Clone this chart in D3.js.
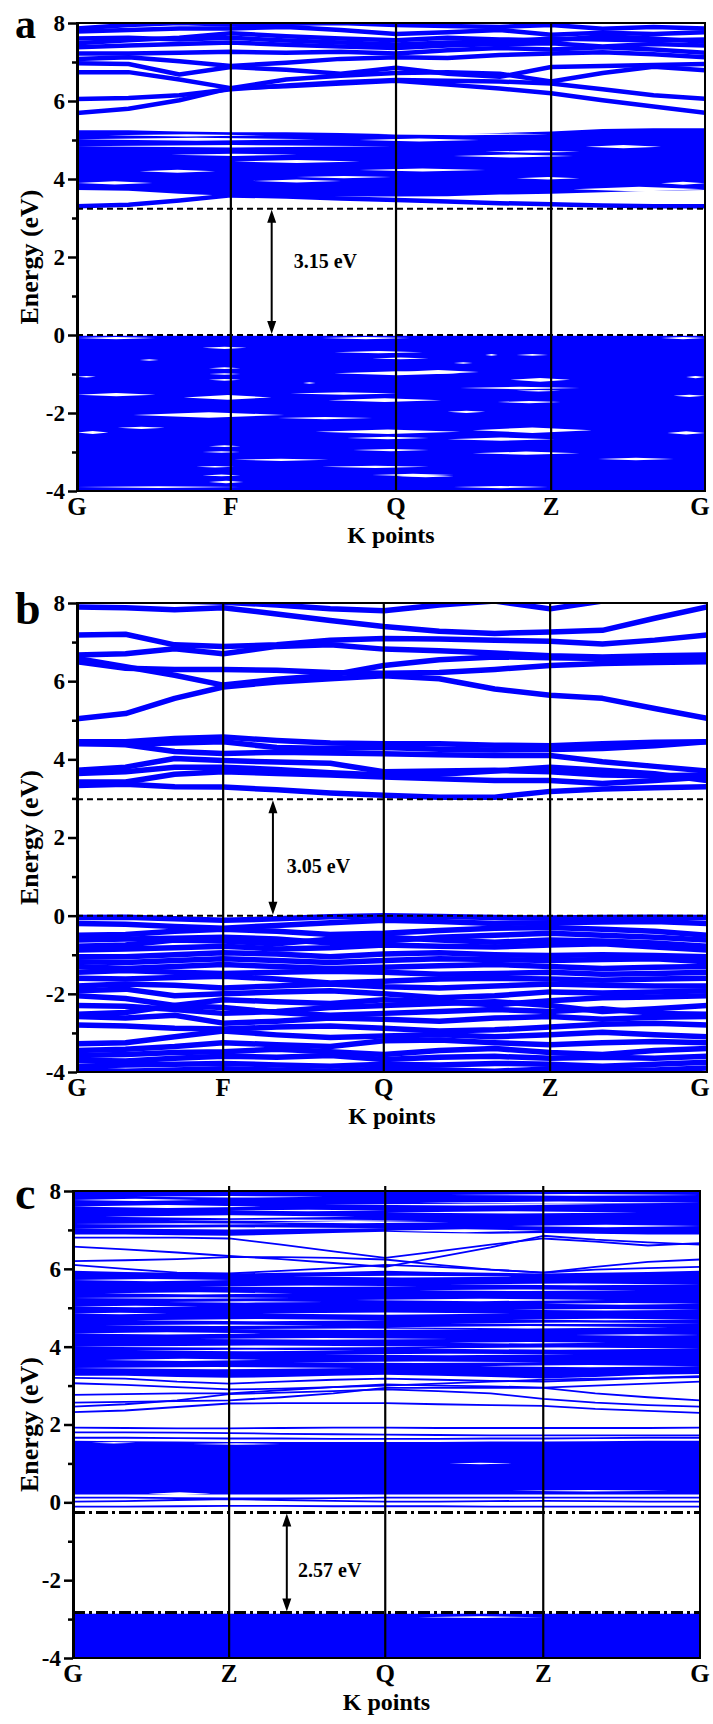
<!DOCTYPE html>
<html lang="en">
<head>
<meta charset="UTF-8">
<title>Band structures a, b, c</title>
<script src="https://d3js.org/d3.v7.min.js"></script>
<style>
    body { margin: 0; background: #fff; }
    svg text { font-family: "Liberation Serif", "Tinos", "Times New Roman", "DejaVu Serif", serif; font-weight: bold; fill: #000; }
</style>
</head>
<body>
<svg width="713" height="1724"></svg>
<script>
    // ---------- panel a ----------
    const kLabelsA = ["G", "F", "Q", "Z", "G"];
    const kTicksA = [0, 0.245, 0.508, 0.755, 1];
    const kGridA = [0, 0.082, 0.163, 0.245, 0.333, 0.42, 0.508, 0.59, 0.673, 0.755, 0.837, 0.918, 1];
    const bandsA = [
        [5.69, 5.80, 6.02, 6.33, 6.38, 6.45, 6.52, 6.42, 6.32, 6.20, 6.02, 5.86, 5.70],
        [6.05, 6.08, 6.15, 6.30, 6.40, 6.48, 6.54, 6.52, 6.50, 6.45, 6.30, 6.15, 6.06],
        [6.74, 6.74, 6.55, 6.33, 6.55, 6.65, 6.72, 6.74, 6.70, 6.50, 6.72, 6.88, 6.79],
        [6.97, 6.95, 6.68, 6.87, 6.80, 6.70, 6.85, 6.70, 6.62, 6.87, 6.90, 6.92, 6.95],
        [7.08, 7.12, 7.02, 6.90, 6.98, 7.08, 7.12, 7.10, 7.18, 7.22, 7.25, 7.20, 7.12],
        [7.22, 7.22, 7.24, 7.26, 7.24, 7.26, 7.22, 7.30, 7.36, 7.32, 7.38, 7.32, 7.24],
        [7.38, 7.42, 7.46, 7.50, 7.44, 7.40, 7.36, 7.42, 7.46, 7.48, 7.40, 7.46, 7.42],
        [7.48, 7.56, 7.62, 7.74, 7.66, 7.60, 7.56, 7.62, 7.58, 7.55, 7.66, 7.60, 7.52],
        [7.60, 7.62, 7.58, 7.62, 7.55, 7.50, 7.45, 7.50, 7.52, 7.60, 7.58, 7.55, 7.58],
        [7.78, 7.82, 7.86, 7.86, 7.90, 7.82, 7.72, 7.76, 7.82, 7.70, 7.75, 7.72, 7.76],
        [7.86, 7.95, 8.00, 7.96, 7.98, 8.00, 7.95, 7.92, 7.90, 7.95, 7.85, 7.90, 7.86],
        [3.30, 3.34, 3.45, 3.58, 3.55, 3.50, 3.46, 3.42, 3.38, 3.35, 3.32, 3.30, 3.30]
    ];
    const blocksA = [
        {lo: [3.72, 3.70, 3.62, 3.57, 3.55, 3.55, 3.55, 3.56, 3.60, 3.62, 3.66, 3.70, 3.72],
         hi: [5.25, 5.25, 5.22, 5.20, 5.20, 5.18, 5.15, 5.15, 5.18, 5.22, 5.28, 5.30, 5.30]},
        {lo: [-4.2, -4.2, -4.2, -4.2, -4.2, -4.2, -4.2, -4.2, -4.2, -4.2, -4.2, -4.2, -4.2],
         hi: [-0.02, -0.02, -0.02, -0.02, -0.02, -0.02, -0.02, -0.02, -0.02, -0.02, -0.02, -0.02, -0.02]}
    ];
    // white openings inside the dense manifolds: [k start, k end, energy, half width (eV)]
    const gapsA = [
        [0.00, 0.12, 3.90, 0.04], [0.00, 0.50, 4.84, 0.03], [0.00, 0.38, 5.02, 0.04], [0.10, 0.22, 4.20, 0.04],
        [0.05, 0.30, 5.12, 0.03], [0.81, 0.93, 4.83, 0.04], [0.60, 0.79, 4.59, 0.04], [0.65, 0.80, 4.70, 0.03],
        [0.45, 0.65, 4.23, 0.04], [0.70, 0.80, 4.02, 0.03], [0.93, 1.00, 3.89, 0.04], [0.79, 1.00, 3.74, 0.06],
        [0.45, 0.64, 5.00, 0.04], [0.48, 0.75, 5.15, 0.03], [0.25, 0.45, 4.45, 0.04], [0.28, 0.42, 3.95, 0.04],
        [0.35, 0.50, 4.05, 0.03], [0.15, 0.35, 4.62, 0.03],
        [0.00, 0.125, -0.08, 0.03], [0.10, 0.13, -0.64, 0.02], [0.00, 0.03, -1.07, 0.02], [0.00, 0.125, -1.53, 0.04],
        [0.17, 0.31, -1.60, 0.06], [0.09, 0.33, -2.05, 0.07], [0.065, 0.14, -2.38, 0.03], [0.00, 0.05, -2.50, 0.04],
        [0.25, 0.40, -3.20, 0.03], [0.19, 0.25, -3.38, 0.02], [0.21, 0.265, -3.77, 0.03], [0.20, 0.27, -0.33, 0.03],
        [0.39, 0.53, -0.08, 0.03], [0.41, 0.55, -0.44, 0.03], [0.47, 0.56, -0.60, 0.02], [0.41, 0.61, -0.98, 0.05],
        [0.36, 0.38, -1.23, 0.02], [0.34, 0.51, -1.50, 0.03], [0.40, 0.58, -1.67, 0.05], [0.32, 0.47, -2.13, 0.03],
        [0.38, 0.61, -2.48, 0.06], [0.43, 0.56, -2.64, 0.03], [0.44, 0.56, -2.95, 0.03], [0.39, 0.56, -3.38, 0.03],
        [0.47, 0.60, -3.59, 0.03], [0.00, 0.26, -3.90, 0.02], [0.93, 1.00, -0.08, 0.03], [0.65, 0.67, -0.51, 0.02],
        [0.70, 0.75, -0.51, 0.02], [0.60, 0.63, -0.72, 0.02], [0.51, 0.64, -0.95, 0.05], [0.69, 0.785, -1.15, 0.05],
        [0.97, 1.00, -1.08, 0.03], [0.61, 0.80, -1.36, 0.03], [0.70, 0.77, -1.43, 0.02], [0.95, 1.00, -1.56, 0.03],
        [0.67, 0.77, -1.72, 0.03], [0.59, 0.65, -1.97, 0.03], [0.63, 0.82, -2.44, 0.07], [0.94, 1.00, -2.51, 0.04],
        [0.59, 0.76, -2.67, 0.04], [0.63, 0.80, -3.03, 0.04], [0.83, 0.95, -3.18, 0.03], [0.51, 0.60, -3.62, 0.03],
        [0.60, 0.75, -3.90, 0.03], [0.21, 0.26, -0.85, 0.02], [0.21, 0.26, -1.00, 0.02], [0.21, 0.26, -1.15, 0.02],
        [0.21, 0.26, -2.85, 0.02], [0.20, 0.26, -3.00, 0.02], [0.20, 0.26, -3.60, 0.02]
    ];
    const edgesA = [0, 3.24];
    const gapTextA = "3.15 eV";

    // ---------- panel b ----------
    const kLabelsB = ["G", "F", "Q", "Z", "G"];
    const kTicksB = [0, 0.232, 0.487, 0.751, 1];
    const kGridB = [0, 0.077, 0.155, 0.232, 0.317, 0.402, 0.487, 0.575, 0.663, 0.751, 0.834, 0.917, 1];
    const bandsB = [
        [3.33, 3.36, 3.30, 3.29, 3.22, 3.14, 3.08, 3.03, 3.03, 3.18, 3.24, 3.27, 3.30],
        [3.42, 3.42, 3.62, 3.68, 3.64, 3.60, 3.55, 3.50, 3.46, 3.46, 3.38, 3.46, 3.55],
        [3.64, 3.68, 3.80, 3.80, 3.74, 3.66, 3.60, 3.62, 3.70, 3.80, 3.72, 3.63, 3.46],
        [3.72, 3.80, 4.02, 3.97, 3.93, 3.90, 3.68, 3.70, 3.72, 3.68, 3.60, 3.58, 3.60],
        [4.41, 4.37, 4.20, 4.15, 4.18, 4.16, 4.14, 4.12, 4.10, 4.10, 3.94, 3.82, 3.70],
        [4.45, 4.45, 4.53, 4.57, 4.48, 4.42, 4.40, 4.40, 4.36, 4.35, 4.40, 4.44, 4.45],
        [4.40, 4.40, 4.42, 4.45, 4.30, 4.28, 4.30, 4.26, 4.24, 4.25, 4.28, 4.35, 4.45],
        [5.04, 5.17, 5.56, 5.85, 5.98, 6.06, 6.14, 6.06, 5.80, 5.64, 5.56, 5.30, 5.05],
        [6.50, 6.33, 6.30, 6.30, 6.28, 6.22, 6.20, 6.22, 6.30, 6.40, 6.45, 6.48, 6.50],
        [6.58, 6.37, 6.15, 5.90, 6.05, 6.15, 6.40, 6.55, 6.62, 6.60, 6.58, 6.56, 6.58],
        [6.67, 6.70, 6.83, 6.70, 6.89, 6.93, 6.82, 6.78, 6.72, 6.65, 6.62, 6.65, 6.67],
        [7.18, 7.20, 6.93, 6.89, 6.93, 7.05, 7.09, 7.08, 7.05, 7.02, 6.95, 7.05, 7.18],
        [7.90, 7.88, 7.83, 7.88, 7.72, 7.55, 7.40, 7.28, 7.22, 7.26, 7.30, 7.61, 7.90],
        [8.20, 8.10, 8.05, 8.02, 7.95, 7.85, 7.80, 7.95, 8.05, 7.85, 8.05, 8.20, 8.20],
        [-0.05, -0.04, -0.08, -0.12, -0.08, -0.03, 0.00, -0.02, -0.05, -0.06, -0.05, -0.04, -0.05],
        [-0.20, -0.22, -0.28, -0.32, -0.25, -0.18, -0.12, -0.15, -0.20, -0.18, -0.16, -0.15, -0.20],
        [-0.50, -0.48, -0.40, -0.35, -0.40, -0.48, -0.45, -0.38, -0.32, -0.30, -0.35, -0.40, -0.50],
        [-0.62, -0.60, -0.58, -0.55, -0.60, -0.70, -0.65, -0.55, -0.50, -0.45, -0.50, -0.55, -0.62],
        [-0.78, -0.75, -0.62, -0.65, -0.72, -0.60, -0.55, -0.62, -0.68, -0.62, -0.65, -0.70, -0.78],
        [-0.88, -0.85, -0.82, -0.78, -0.85, -0.82, -0.75, -0.78, -0.80, -0.75, -0.72, -0.80, -0.88],
        [-1.05, -1.05, -1.00, -0.95, -0.98, -1.05, -0.98, -0.95, -1.00, -1.02, -1.00, -1.02, -1.05],
        [-1.18, -1.20, -1.15, -1.10, -1.15, -1.20, -1.15, -1.10, -1.12, -1.15, -1.12, -1.10, -1.18],
        [-1.30, -1.35, -1.30, -1.25, -1.30, -1.35, -1.32, -1.28, -1.25, -1.30, -1.35, -1.32, -1.30],
        [-1.45, -1.40, -1.45, -1.48, -1.45, -1.42, -1.45, -1.50, -1.48, -1.45, -1.50, -1.48, -1.45],
        [-1.60, -1.62, -1.58, -1.55, -1.62, -1.72, -1.68, -1.62, -1.60, -1.62, -1.65, -1.62, -1.60],
        [-1.80, -1.75, -1.78, -1.85, -1.80, -1.75, -1.82, -1.85, -1.80, -1.75, -1.78, -1.80, -1.80],
        [-1.92, -1.88, -2.05, -2.00, -1.95, -1.92, -2.00, -2.10, -2.05, -1.95, -1.98, -1.95, -1.92],
        [-2.05, -2.12, -2.30, -2.15, -2.20, -2.25, -2.15, -2.20, -2.28, -2.18, -2.10, -2.08, -2.05],
        [-2.30, -2.32, -2.40, -2.50, -2.45, -2.35, -2.30, -2.25, -2.20, -2.30, -2.45, -2.38, -2.30],
        [-2.52, -2.48, -2.30, -2.35, -2.48, -2.55, -2.50, -2.45, -2.40, -2.45, -2.38, -2.50, -2.52],
        [-2.58, -2.62, -2.55, -2.75, -2.70, -2.62, -2.65, -2.70, -2.62, -2.58, -2.65, -2.60, -2.58],
        [-2.80, -2.82, -2.88, -2.90, -2.85, -2.82, -2.88, -2.95, -2.92, -2.85, -2.78, -2.75, -2.80],
        [-3.28, -3.25, -3.10, -2.95, -3.05, -3.12, -3.08, -3.05, -3.10, -3.05, -2.98, -3.05, -3.10],
        [-3.45, -3.42, -3.35, -3.25, -3.30, -3.35, -3.20, -3.18, -3.25, -3.30, -3.25, -3.22, -3.25],
        [-3.58, -3.55, -3.50, -3.48, -3.42, -3.48, -3.55, -3.45, -3.40, -3.50, -3.55, -3.45, -3.40],
        [-3.70, -3.72, -3.65, -3.60, -3.62, -3.58, -3.68, -3.62, -3.60, -3.65, -3.62, -3.65, -3.60],
        [-3.85, -3.82, -3.80, -3.78, -3.82, -3.85, -3.80, -3.82, -3.78, -3.80, -3.85, -3.80, -3.75],
        [-3.95, -3.98, -3.95, -3.92, -3.95, -3.98, -3.92, -3.95, -3.98, -3.92, -3.95, -3.95, -3.90]
    ];
    const blocksB = [];
    const gapsB = [];
    const edgesB = [0, 2.98];
    const gapTextB = "3.05 eV";

    // ---------- panel c ----------
    const kLabelsC = ["G", "Z", "Q", "Z", "G"];
    const kTicksC = [0, 0.249, 0.498, 0.75, 1];
    const kGridC = [0, 0.083, 0.166, 0.249, 0.332, 0.415, 0.498, 0.582, 0.666, 0.75, 0.833, 0.917, 1];
    const bandsC = [
        [6.57, 6.50, 6.42, 6.33, 6.25, 6.15, 6.05, 6.30, 6.55, 6.85, 6.75, 6.68, 6.62],
        [6.10, 6.00, 5.90, 5.88, 5.95, 6.02, 6.10, 6.05, 5.98, 5.90, 5.98, 6.02, 6.05],
        [6.80, 6.80, 6.80, 6.78, 6.62, 6.45, 6.28, 6.45, 6.62, 6.78, 6.70, 6.60, 6.66],
        [6.20, 6.22, 6.25, 6.30, 6.30, 6.28, 6.24, 6.10, 5.98, 5.90, 6.05, 6.18, 6.24],
        [2.32, 2.36, 2.45, 2.54, 2.55, 2.55, 2.55, 2.52, 2.50, 2.48, 2.40, 2.35, 2.30],
        [2.46, 2.52, 2.62, 2.78, 2.82, 2.86, 2.90, 2.86, 2.80, 2.66, 2.56, 2.50, 2.46],
        [2.56, 2.58, 2.60, 2.62, 2.70, 2.80, 2.94, 2.94, 2.94, 2.94, 2.80, 2.70, 2.62],
        [2.76, 2.78, 2.80, 2.80, 2.88, 2.96, 3.03, 3.00, 2.98, 2.95, 3.00, 3.05, 3.10],
        [3.06, 3.02, 2.96, 2.90, 2.92, 2.96, 3.00, 3.05, 3.10, 3.15, 3.18, 3.20, 3.22],
        [3.20, 3.18, 3.10, 3.05, 3.10, 3.15, 3.18, 3.15, 3.12, 3.10, 3.15, 3.20, 3.24],
        [1.92, 1.91, 1.90, 1.90, 1.91, 1.92, 1.92, 1.91, 1.91, 1.91, 1.91, 1.91, 1.92],
        [1.80, 1.80, 1.79, 1.78, 1.76, 1.75, 1.74, 1.73, 1.72, 1.72, 1.72, 1.72, 1.72],
        [1.66, 1.66, 1.65, 1.64, 1.64, 1.63, 1.63, 1.63, 1.64, 1.64, 1.65, 1.66, 1.66],
        [0.12, 0.12, 0.11, 0.10, 0.10, 0.11, 0.12, 0.12, 0.12, 0.12, 0.12, 0.12, 0.12],
        [0.02, 0.03, 0.06, 0.08, 0.06, 0.04, 0.02, 0.02, 0.03, 0.04, 0.03, 0.02, 0.02],
        [-0.11, -0.11, -0.10, -0.09, -0.09, -0.10, -0.10, -0.10, -0.11, -0.11, -0.11, -0.11, -0.11]
    ];
    const blocksC = [
        {lo: [6.88, 6.88, 6.86, 6.85, 6.88, 6.92, 6.95, 6.92, 6.90, 6.92, 6.90, 6.88, 6.88],
         hi: [8.2, 8.2, 8.2, 8.2, 8.2, 8.2, 8.2, 8.2, 8.2, 8.2, 8.2, 8.2, 8.2]},
        {lo: [3.25, 3.25, 3.22, 3.20, 3.22, 3.25, 3.28, 3.25, 3.22, 3.18, 3.22, 3.28, 3.30],
         hi: [5.95, 5.92, 5.90, 5.88, 5.90, 5.92, 5.95, 5.92, 5.90, 5.88, 5.90, 5.92, 5.95]},
        {lo: [0.20, 0.20, 0.20, 0.20, 0.20, 0.20, 0.20, 0.20, 0.20, 0.20, 0.20, 0.20, 0.20],
         hi: [1.58, 1.57, 1.56, 1.55, 1.55, 1.55, 1.55, 1.55, 1.56, 1.56, 1.57, 1.58, 1.58]},
        {lo: [-4.2, -4.2, -4.2, -4.2, -4.2, -4.2, -4.2, -4.2, -4.2, -4.2, -4.2, -4.2, -4.2],
         hi: [-2.86, -2.86, -2.86, -2.86, -2.86, -2.86, -2.86, -2.86, -2.86, -2.86, -2.86, -2.86, -2.86]}
    ];
    const gapsC = [
        [0.00, 0.20, 7.77, 0.03], [0.00, 0.30, 7.60, 0.04], [0.05, 0.45, 7.34, 0.04], [0.00, 0.50, 7.04, 0.03],
        [0.30, 0.60, 7.20, 0.03], [0.50, 0.90, 7.45, 0.03], [0.55, 1.00, 7.70, 0.03], [0.60, 1.00, 7.90, 0.02],
        [0.70, 1.00, 7.10, 0.03], [0.50, 0.75, 6.98, 0.04], [0.10, 0.40, 7.85, 0.02], [0.25, 0.50, 7.50, 0.02],
        [0.00, 0.25, 5.71, 0.03], [0.05, 0.35, 5.37, 0.03], [0.20, 0.55, 5.55, 0.02], [0.00, 0.20, 5.03, 0.02],
        [0.10, 0.50, 4.68, 0.03], [0.00, 0.30, 4.34, 0.03], [0.00, 0.60, 4.00, 0.03], [0.05, 0.30, 3.66, 0.03],
        [0.20, 0.60, 4.20, 0.02], [0.30, 0.70, 4.85, 0.03], [0.45, 0.85, 5.20, 0.03], [0.50, 0.95, 4.50, 0.03],
        [0.55, 1.00, 3.95, 0.03], [0.60, 1.00, 5.60, 0.02], [0.65, 1.00, 3.50, 0.03], [0.70, 1.00, 4.70, 0.02],
        [0.40, 0.80, 3.80, 0.02], [0.35, 0.70, 5.80, 0.02], [0.00, 0.45, 3.45, 0.03], [0.75, 1.00, 5.10, 0.02],
        [0.80, 1.00, 4.30, 0.02], [0.00, 0.15, 4.85, 0.02], [0.15, 0.40, 5.15, 0.02], [0.60, 0.85, 4.10, 0.02],
        [0.00, 0.35, 5.25, 0.02], [0.25, 0.65, 4.45, 0.02], [0.10, 0.45, 3.90, 0.02], [0.55, 0.90, 5.45, 0.02],
        [0.70, 1.00, 4.95, 0.02], [0.35, 0.75, 3.60, 0.02], [0.05, 0.40, 4.55, 0.02], [0.60, 1.00, 4.60, 0.02],
        [0.15, 0.55, 7.25, 0.02], [0.40, 0.85, 7.65, 0.02], [0.00, 0.35, 7.15, 0.02],
        [0.03, 0.10, 1.53, 0.02], [0.19, 0.33, 1.50, 0.02], [0.12, 0.22, 0.22, 0.04], [0.60, 0.70, 1.00, 0.02],
        [0.70, 0.95, 0.30, 0.02], [0.55, 0.75, -2.95, 0.02]
    ];
    const edgesC = [-0.26, -2.83];
    const gapTextC = "2.57 eV";

    const yMajor = [-4, -2, 0, 2, 4, 6, 8];
    const yMinor = [-3, -1, 1, 3, 5, 7];

    // ---------- drawing ----------
    const svg = d3.select("svg");
    const blue = "#0000ff";
    const serif = '"Liberation Serif", "Tinos", "Times New Roman", "DejaVu Serif", serif';

    function drawPanel(p) {
        const x = d3.scaleLinear().domain([0, 1]).range([p.left, p.right]);
        const y = d3.scaleLinear().domain([-4, 8]).range([p.bottom, p.top]);
        const g = svg.append("g");

        g.append("clipPath").attr("id", "clip-" + p.id)
            .append("rect")
            .attr("x", p.left).attr("y", p.top)
            .attr("width", p.right - p.left).attr("height", p.bottom - p.top);
        const plot = g.append("g").attr("clip-path", "url(#clip-" + p.id + ")");

        // dense band manifolds
        const area = d3.area()
            .x((d, i) => x(p.kGrid[i]))
            .y0(d => y(d[0]))
            .y1(d => y(d[1]));
        plot.selectAll("path.block").data(p.blocks).join("path")
            .attr("class", "block")
            .attr("d", b => area(b.lo.map((v, i) => [v, b.hi[i]])))
            .attr("fill", blue);

        // single bands
        const line = d3.line().x((d, i) => x(p.kGrid[i])).y(d => y(d));
        plot.selectAll("path.band").data(p.bands).join("path")
            .attr("class", "band")
            .attr("d", line)
            .attr("fill", "none")
            .attr("stroke", blue)
            .attr("stroke-width", p.bandWidth)
            .attr("stroke-linejoin", "round");

        // small openings between bands
        plot.selectAll("path.gap").data(p.gaps).join("path")
            .attr("class", "gap")
            .attr("d", s => {
                const xm = x((s[0] + s[1]) / 2);
                return "M" + x(s[0]) + "," + y(s[2]) +
                    "L" + xm + "," + y(s[2] + s[3]) +
                    "L" + x(s[1]) + "," + y(s[2]) +
                    "L" + xm + "," + y(s[2] - s[3]) + "Z";
            })
            .attr("fill", "#fff");

        // high symmetry lines
        g.selectAll("line.kline").data(p.kTicks.slice(1, -1)).join("line")
            .attr("class", "kline")
            .attr("x1", d => x(d)).attr("x2", d => x(d))
            .attr("y1", p.top - p.overhang).attr("y2", p.bottom)
            .attr("stroke", "#000").attr("stroke-width", 2.2);

        // band edges
        g.selectAll("line.edge").data(p.edges).join("line")
            .attr("class", "edge")
            .attr("x1", p.left).attr("x2", p.right)
            .attr("y1", d => y(d)).attr("y2", d => y(d))
            .attr("stroke", "#000")
            .attr("stroke-width", p.edgeWidth)
            .attr("stroke-dasharray", p.edgeDash);

        // gap arrow
        const ax = x(p.arrowK);
        const yHi = y(d3.max(p.edges)), yLo = y(d3.min(p.edges));
        g.append("line")
            .attr("x1", ax).attr("x2", ax)
            .attr("y1", yHi + 8).attr("y2", yLo - 8)
            .attr("stroke", "#000").attr("stroke-width", 2);
        g.append("path")
            .attr("d", "M" + ax + "," + (yHi + 1) + "l-4.5,13h9Z M" + ax + "," + (yLo - 1) + "l-4.5,-13h9Z")
            .attr("fill", "#000");
        g.append("text")
            .attr("x", x(p.textK)).attr("y", y(p.textE))
            .style("font-family", serif).style("font-weight", "bold")
            .attr("font-size", 20)
            .text(p.gapText);

        // frame
        g.append("rect")
            .attr("x", p.left).attr("y", p.top)
            .attr("width", p.right - p.left).attr("height", p.bottom - p.top)
            .attr("fill", "none").attr("stroke", "#000").attr("stroke-width", 2);

        // y axis
        const axisMajor = d3.axisLeft(y).tickValues(yMajor).tickSize(9).tickSizeOuter(0)
            .tickPadding(3).tickFormat(d => String(d));
        const axMaj = g.append("g").attr("transform", "translate(" + p.left + ",0)").call(axisMajor);
        axMaj.select(".domain").attr("stroke-width", 3);
        axMaj.selectAll(".tick line").attr("stroke-width", 2.5);
        axMaj.selectAll(".tick text")
            .style("font-family", serif).style("font-weight", "bold")
            .style("font-size", "23px");
        const axisMinor = d3.axisLeft(y).tickValues(yMinor).tickSize(5).tickSizeOuter(0).tickFormat("");
        const axMin = g.append("g").attr("transform", "translate(" + p.left + ",0)").call(axisMinor);
        axMin.select(".domain").remove();
        axMin.selectAll(".tick line").attr("stroke-width", 2.5);

        // x labels
        g.selectAll("text.klab").data(p.kLabels).join("text")
            .attr("class", "klab")
            .attr("x", (d, i) => Math.min(x(p.kTicks[i]), 700))
            .attr("y", p.bottom + 24)
            .attr("text-anchor", "middle")
            .style("font-family", serif).style("font-weight", "bold")
            .attr("font-size", 25)
            .text(d => d);

        g.append("text")
            .attr("x", (p.left + p.right) / 2)
            .attr("y", p.bottom + 52)
            .attr("text-anchor", "middle")
            .style("font-family", serif).style("font-weight", "bold")
            .attr("font-size", 24)
            .text("K points");

        g.append("text")
            .attr("transform", "translate(29," + ((p.top + p.bottom) / 2) + ") rotate(-90)")
            .attr("text-anchor", "middle")
            .attr("dominant-baseline", "central")
            .style("font-family", serif).style("font-weight", "bold")
            .attr("font-size", 26)
            .text("Energy (eV)");

        g.append("text")
            .attr("x", 15).attr("y", p.letterY)
            .style("font-family", serif).style("font-weight", "bold")
            .attr("font-size", p.letterSize)
            .text(p.letter);
    }

    drawPanel({
        id: "a", letter: "a", letterY: 38, letterSize: 42,
        left: 77, right: 705, top: 23, bottom: 491, overhang: 0,
        kLabels: kLabelsA, kTicks: kTicksA, kGrid: kGridA,
        bands: bandsA, blocks: blocksA, gaps: gapsA, bandWidth: 4.5,
        edges: edgesA, edgeWidth: 2, edgeDash: "6,4",
        arrowK: 0.31, textK: 0.345, textE: 1.72, gapText: gapTextA
    });
    drawPanel({
        id: "b", letter: "b", letterY: 624, letterSize: 46,
        left: 77, right: 707, top: 603, bottom: 1072, overhang: 0,
        kLabels: kLabelsB, kTicks: kTicksB, kGrid: kGridB,
        bands: bandsB, blocks: blocksB, gaps: gapsB, bandWidth: 5.5,
        edges: edgesB, edgeWidth: 2, edgeDash: "6,4",
        arrowK: 0.311, textK: 0.333, textE: 1.1, gapText: gapTextB
    });
    drawPanel({
        id: "c", letter: "c", letterY: 1209, letterSize: 46,
        left: 73, right: 700, top: 1191, bottom: 1658, overhang: 5,
        kLabels: kLabelsC, kTicks: kTicksC, kGrid: kGridC,
        bands: bandsC, blocks: blocksC, gaps: gapsC, bandWidth: 1.8,
        edges: edgesC, edgeWidth: 3, edgeDash: "12,4,3,4",
        arrowK: 0.341, textK: 0.359, textE: -1.92, gapText: gapTextC
    });
</script>
</body>
</html>
